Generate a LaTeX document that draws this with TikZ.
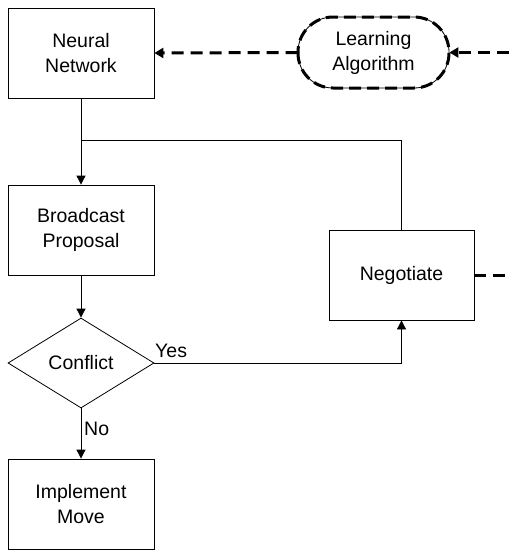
\documentclass[tikz,border=0pt]{standalone}
\usepackage{fontspec}
\setmainfont{Liberation Sans}
\usetikzlibrary{arrows.meta,shapes.geometric}
\begin{document}
\begin{tikzpicture}[x=1pt,y=-1pt,
  font=\fontsize{19.5}{25}\selectfont,
  box/.style={draw, line width=0.8pt, align=center, inner sep=0pt,
    minimum width=146pt, minimum height=90pt},
  decision/.style={draw, diamond, line width=0.8pt, inner sep=0pt,
    minimum width=146pt, minimum height=90pt},
  learnbox/.style={draw, line width=0.8pt, align=center, inner sep=0pt,
    minimum width=151pt, minimum height=71pt, rounded corners=35pt},
  flow/.style={line width=0.8pt, -{Triangle[length=9pt,width=9pt]}},
  plain/.style={line width=0.8pt},
  feedback/.style={line width=3pt, dash pattern=on 12pt off 7pt,
    -{Triangle[length=9pt,width=10pt]}},
  feedline/.style={line width=3pt, dash pattern=on 12pt off 7pt}
]
\useasboundingbox (0,0) rectangle (509,550);

% main flow
\node[box] (nn) at (81,53) {Neural\\Network};
\node[box] (bp) at (81,230) {Broadcast\\Proposal};
\node[decision] (cf) at (81,363) {Conflict};
\node[box] (im) at (81,504) {Implement\\Move};
\node[box, minimum width=145pt] (ng) at (401.5,275) {Negotiate};

% learning loop
\node[learnbox] (la) at (373.5,52.5) {Learning\\Algorithm};
\draw[line width=3pt, dash pattern=on 12pt off 6pt, rounded corners=35pt]
  (298,17) rectangle (449,88);

\coordinate (laIn) at (509,52.5);
\coordinate (ngOut) at (509,275);
\coordinate (join) at (81,140);

% connectors
\draw[flow] (nn.south) -- (bp.north);
\draw[plain] (ng.north) |- (join);
\draw[flow] (bp.south) -- (cf.north);
\draw[flow] (cf.south) -- (im.north);
\draw[flow] (cf.east) -| (ng.south);

\draw[feedback] (la.west) -- (nn.east);
\draw[feedback] (laIn) -- (la.east);
\draw[feedline] (ng.east) -- (ngOut);

% branch labels
\node[anchor=base west, inner sep=0pt] (yes) at (155,357) {Yes};
\node[anchor=base west, inner sep=0pt] (no) at (84,435) {No};
\end{tikzpicture}
\end{document}
